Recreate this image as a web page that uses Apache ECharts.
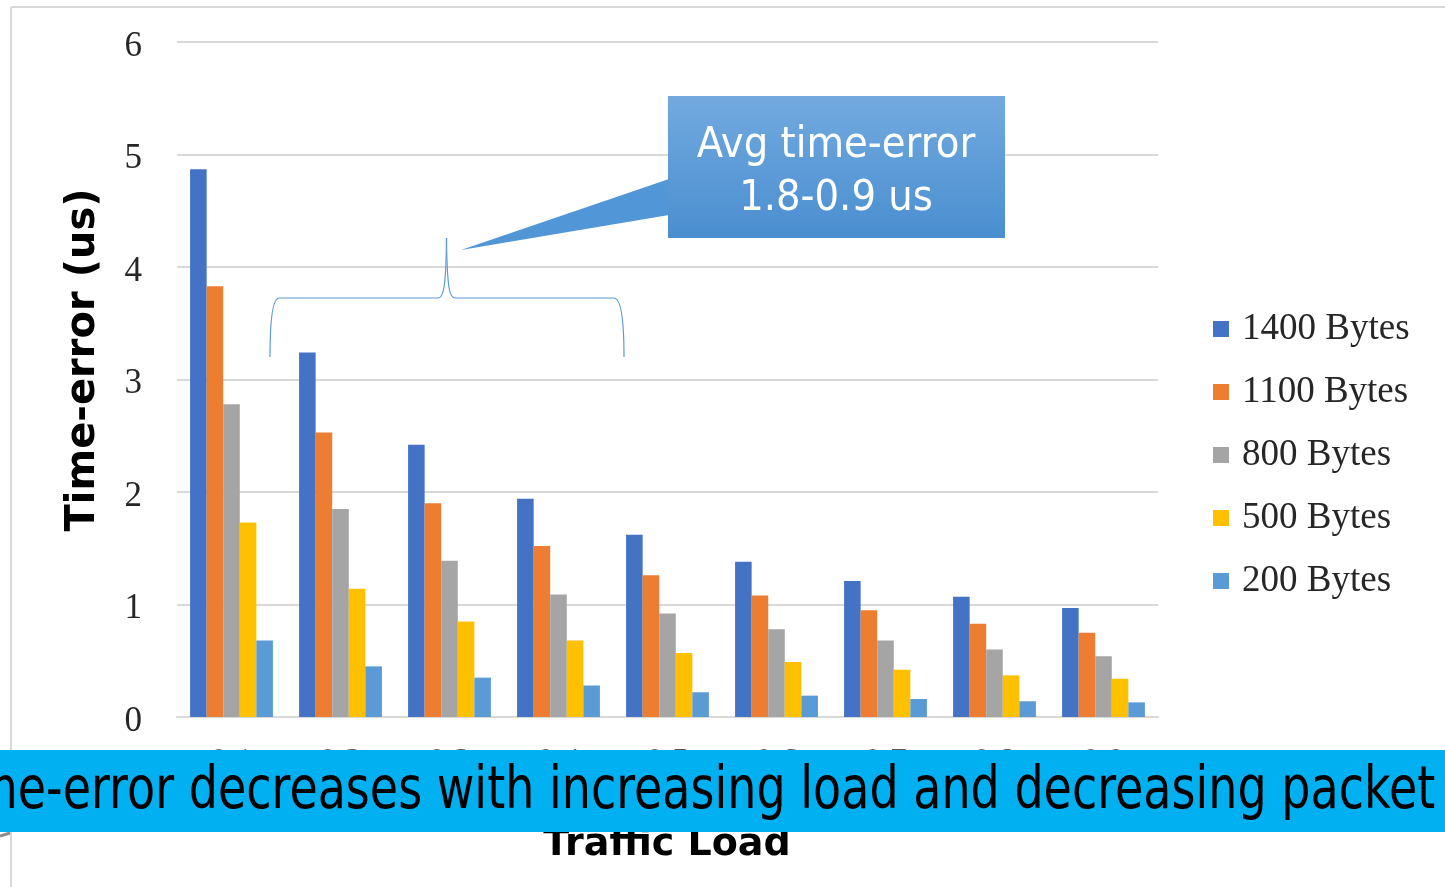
<!DOCTYPE html>
<html><head><meta charset="utf-8">
<script src="https://cdn.jsdelivr.net/npm/echarts@6/dist/echarts.min.js"></script>
<style>html,body{margin:0;padding:0;background:#fff;overflow:hidden}#c{width:1445px;height:887px}</style>
</head><body><div id="c"></div>
<script>
// ---- data ----
const categories = ['0.1', '0.2', '0.3', '0.4', '0.5', '0.6', '0.7', '0.8', '0.9'];
const seriesNames = ['1400 Bytes', '1100 Bytes', '800 Bytes', '500 Bytes', '200 Bytes'];
const bytes1400 = [4.87, 3.24, 2.42, 1.94, 1.62, 1.38, 1.21, 1.07, 0.97];
const bytes1100 = [3.83, 2.53, 1.90, 1.52, 1.26, 1.08, 0.95, 0.83, 0.75];
const bytes800  = [2.78, 1.85, 1.39, 1.09, 0.92, 0.78, 0.68, 0.60, 0.54];
const bytes500  = [1.73, 1.14, 0.85, 0.68, 0.57, 0.49, 0.42, 0.37, 0.34];
const bytes200  = [0.68, 0.45, 0.35, 0.28, 0.22, 0.19, 0.16, 0.14, 0.13];
const yMin = 0, yMax = 6, yStep = 1;
const yTitle = 'Time-error (us)';
const xTitle = 'Traffic Load';
const calloutLines = ['Avg time-error', '1.8-0.9 us'];
const bannerText = 'Time-error decreases with increasing load and decreasing packet size';

const seriesData = [bytes1400, bytes1100, bytes800, bytes500, bytes200];
const colors = ['#4472C4', '#ED7D31', '#A5A5A5', '#FFC000', '#5B9BD5'];

const bannerFont = 46;
const ctx = document.createElement('canvas').getContext('2d');
ctx.font = bannerFont + 'px "DejaVu Sans"';
const prefixW = ctx.measureText('Ti').width;

const braceStyle = {stroke: '#5B9BD5', lineWidth: 1.2, fill: null};
function bez(x1, y1, cx1, cy1, cx2, cy2, x2, y2) {
  return {type: 'bezierCurve', z: 60, shape: {x1, y1, cpx1: cx1, cpy1: cy1, cpx2: cx2, cpy2: cy2, x2, y2}, style: braceStyle};
}
function seg(x1, y1, x2, y2) {
  return {type: 'line', z: 60, shape: {x1, y1, x2, y2}, style: braceStyle};
}

const chart = echarts.init(document.getElementById('c'), null, {renderer: 'canvas'});
const option = {
  animation: false,
  backgroundColor: '#ffffff',
  grid: {left: 177, top: 42, width: 981, height: 675},
  legend: {
    orient: 'vertical', left: 1213, top: 309, padding: 0,
    icon: 'rect', itemWidth: 16, itemHeight: 16, itemGap: 23,
    data: seriesNames,
    textStyle: {fontFamily: 'Liberation Serif', fontSize: 37, color: '#262626', lineHeight: 40, padding: [0, 0, 0, 8]}
  },
  xAxis: {
    type: 'category', data: categories,
    axisLine: {lineStyle: {color: '#d9d9d9', width: 2}},
    axisTick: {show: false},
    axisLabel: {fontFamily: 'Liberation Serif', fontSize: 34, color: '#595959', margin: 28}
  },
  yAxis: {
    type: 'value', min: yMin, max: yMax, interval: yStep,
    axisLine: {show: false}, axisTick: {show: false},
    axisLabel: {
      margin: 35,
      formatter: '{a|{value}}',
      rich: {a: {fontFamily: 'Liberation Serif', fontSize: 35, color: '#262626', padding: [9, 0, 0, 0]}}
    },
    splitLine: {lineStyle: {color: '#d9d9d9', width: 2}}
  },
  series: seriesNames.map((n, i) => ({
    name: n, type: 'bar', data: seriesData[i],
    barGap: '0%', barCategoryGap: '24%',
    itemStyle: {color: colors[i]}
  })),
  graphic: [
    // outer frame
    {type: 'line', z: 50, shape: {x1: 11, y1: 7, x2: 1445, y2: 7}, style: {stroke: '#d9d9d9', lineWidth: 2}},
    {type: 'line', z: 50, shape: {x1: 11, y1: 7, x2: 11, y2: 887}, style: {stroke: '#d9d9d9', lineWidth: 2}},
    // y axis title
    {type: 'text', z: 50, x: 84, y: 360, rotation: Math.PI / 2,
      style: {text: yTitle, font: 'bold 40px "DejaVu Sans"', fill: '#000', textAlign: 'center', textVerticalAlign: 'middle'}},
    // x axis title
    {type: 'text', z: 50, x: 667, y: 845,
      style: {text: xTitle, font: 'bold 38px "DejaVu Sans"', fill: '#000', textAlign: 'center', textVerticalAlign: 'middle'}},
    // brace
    bez(270, 357, 270, 322, 272, 298, 279, 298),
    seg(279, 298, 438, 298),
    bez(438, 298, 443, 298, 446, 290, 446.5, 238),
    bez(446.5, 238, 447, 290, 450, 298, 455, 298),
    seg(455, 298, 614, 298),
    bez(614, 298, 621, 298, 624, 322, 624, 357),
    // callout tail
    {type: 'polygon', z: 60, shape: {points: [[669, 179], [669, 215], [461, 250]]},
      style: {fill: '#5196d6'}},
    // callout box
    {type: 'rect', z: 60, shape: {x: 668, y: 96, width: 337, height: 142},
      style: {fill: {type: 'linear', x: 0, y: 0, x2: 0, y2: 1, colorStops: [{offset: 0, color: '#72aadf'}, {offset: 1, color: '#4a8ed0'}]}}},
    {type: 'text', z: 61, x: 836, y: 146, scaleX: 0.92,
      style: {text: calloutLines[0], font: '42px "DejaVu Sans"', fill: '#fff', textAlign: 'center', textVerticalAlign: 'middle'}},
    {type: 'text', z: 61, x: 836, y: 199, scaleX: 0.92,
      style: {text: calloutLines[1], font: '42px "DejaVu Sans"', fill: '#fff', textAlign: 'center', textVerticalAlign: 'middle'}},
    // banner
    {type: 'rect', z: 100, shape: {x: 0, y: 750, width: 1445, height: 82}, style: {fill: '#00B0F0'}},
    {type: 'text', z: 101, x: -prefixW - 27, y: 793, scaleY: 1.27,
      style: {text: bannerText, font: bannerFont + 'px "DejaVu Sans"', fill: '#000', textAlign: 'left', textVerticalAlign: 'middle'}},
    {type: 'line', z: 50, shape: {x1: 0, y1: 836, x2: 10, y2: 833}, style: {stroke: '#8c8c8c', lineWidth: 3}}
  ]
};
chart.setOption(option);
</script></body></html>
